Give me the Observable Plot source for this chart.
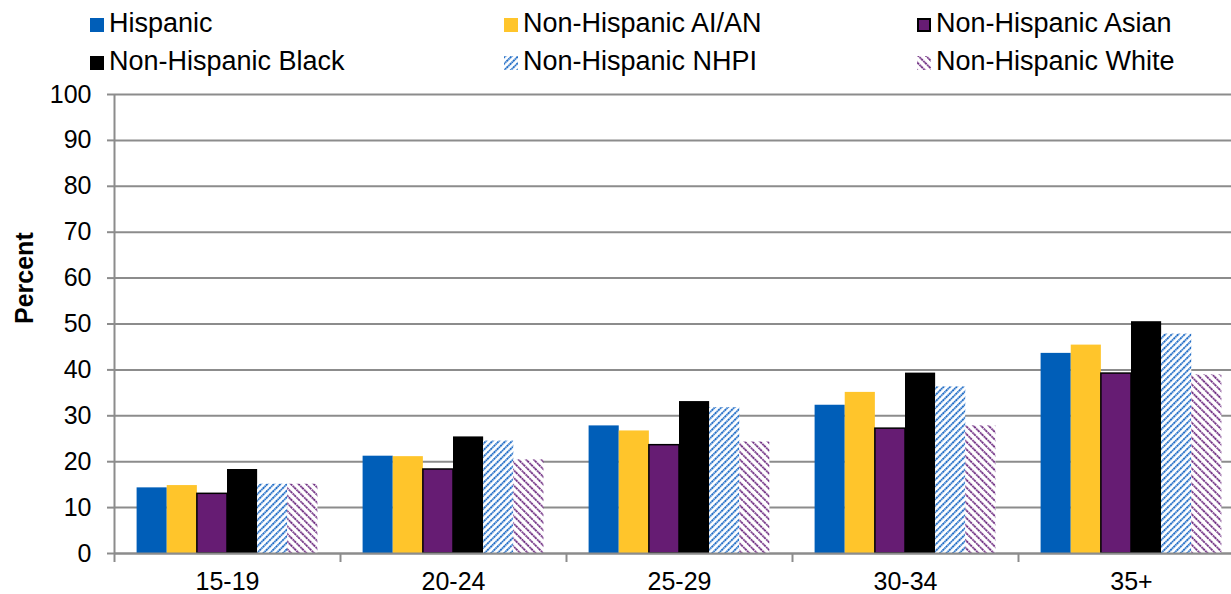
<!DOCTYPE html>
<html>
<head>
<meta charset="utf-8">
<script src="https://cdn.jsdelivr.net/npm/d3@7"></script>
<script src="https://cdn.jsdelivr.net/npm/@observablehq/plot@0.6"></script>
<style>
  html, body { margin: 0; padding: 0; background: #fff; overflow: hidden; }
  body { width: 1231px; height: 594px; font-family: "Liberation Sans", Arial, sans-serif; }
  #legend { position: relative; width: 1231px; height: 80px; }
  #chart { width: 1244px; }
  #chart svg { max-width: none !important; display: block; }
  .sw { position: absolute; width: 14px; height: 14px; }
  .lt { position: absolute; font-size: 27px; line-height: 30px; color: #000; white-space: nowrap; }
</style>
</head>
<body>
<svg width="0" height="0" style="position:absolute">
  <defs>
    <pattern id="hatch-nhpi" patternUnits="userSpaceOnUse" width="4.6" height="4.6" patternTransform="rotate(45)">
      <rect width="4.6" height="4.6" fill="#ffffff"></rect>
      <line x1="1" y1="0" x2="1" y2="4.6" stroke="#1f6cc6" stroke-width="1.9" stroke-dasharray="1.8 0.5"></line>
    </pattern>
    <pattern id="hatch-white" patternUnits="userSpaceOnUse" width="5.4" height="5.4" patternTransform="rotate(-45)">
      <rect width="5.4" height="5.4" fill="#ffffff"></rect>
      <line x1="1" y1="0" x2="1" y2="5.4" stroke="#6d2a80" stroke-width="1.8" stroke-dasharray="1.8 0.6"></line>
    </pattern>
  </defs>
</svg>
<div id="legend"></div>
<div id="chart"></div>
<script>
const categories = ["15-19", "20-24", "25-29", "30-34", "35+"];
const series = ["Hispanic", "Non-Hispanic AI/AN", "Non-Hispanic Asian", "Non-Hispanic Black", "Non-Hispanic NHPI", "Non-Hispanic White"];
const hispanic = [14.3, 21.2, 27.8, 32.3, 43.6];
const aian     = [14.8, 21.1, 26.7, 35.1, 45.4];
const asian    = [13.0, 18.3, 23.6, 27.2, 39.2];
const black    = [18.3, 25.4, 33.1, 39.3, 50.5];
const nhpi     = [15.1, 24.5, 31.8, 36.3, 47.8];
const white    = [15.1, 20.4, 24.3, 27.8, 38.9];
const yTicks = [0, 10, 20, 30, 40, 50, 60, 70, 80, 90, 100];

const colors = ["#005eb8", "#ffc52b", "#661c73", "#000000", "url(#hatch-nhpi)", "url(#hatch-white)"];
const values = [hispanic, aian, asian, black, nhpi, white];

const rows = [];
categories.forEach((c, ci) => {
  series.forEach((s, si) => {
    rows.push({cat: c, ci, series: s, si, value: values[si][ci]});
  });
});

// Legend (HTML above the SVG)
const legend = document.getElementById("legend");
const legendCols = [90, 504, 917];
const legendRows = [18, 56];
series.forEach((s, i) => {
  const col = i % 3, row = Math.floor(i / 3);
  const sw = document.createElementNS("http://www.w3.org/2000/svg", "svg");
  sw.setAttribute("class", "sw");
  sw.setAttribute("width", 14); sw.setAttribute("height", 14);
  sw.style.left = legendCols[col] + "px";
  sw.style.top = legendRows[row] + "px";
  const r = document.createElementNS("http://www.w3.org/2000/svg", "rect");
  const bordered = s === "Non-Hispanic Asian";
  r.setAttribute("x", bordered ? 1 : 0); r.setAttribute("y", bordered ? 1 : 0);
  r.setAttribute("width", bordered ? 12 : 14); r.setAttribute("height", bordered ? 12 : 14);
  r.setAttribute("fill", colors[i]);
  if (bordered) { r.setAttribute("stroke", "#000"); r.setAttribute("stroke-width", 2); }
  sw.appendChild(r);
  legend.appendChild(sw);
  const t = document.createElement("div");
  t.className = "lt";
  t.textContent = s;
  t.style.left = (legendCols[col] + 19) + "px";
  t.style.top = (legendRows[row] - 10) + "px";
  legend.appendChild(t);
});

const grid = "#8c8c8c";
const nC = categories.length, nS = series.length, pad = 0.75;
const step = 1 / (nS + 2 * pad);

const chart = Plot.plot({
  width: 1244,
  height: 514,
  marginTop: 14,
  marginBottom: 41,
  marginLeft: 114,
  marginRight: 0,
  style: {fontFamily: "'Liberation Sans', Arial, sans-serif", fontSize: "25px", color: "#000", background: "#fff", overflow: "visible", maxWidth: "none"},
  x: {type: "linear", domain: [0, nC], axis: null},
  y: {domain: [0, 100], axis: null},
  color: {type: "ordinal", domain: series, range: colors},
  marks: [
    Plot.gridY(yTicks, {stroke: grid, strokeOpacity: 1, strokeWidth: 2}),
    Plot.rectY(rows, {
      x1: d => d.ci + (d.si + pad) * step,
      x2: d => d.ci + (d.si + pad + 1) * step,
      y1: 0, y2: "value", fill: "series"
    }),
    Plot.rectY(rows.filter(d => d.series === "Non-Hispanic Asian"), {
      x1: d => d.ci + (d.si + pad) * step,
      x2: d => d.ci + (d.si + pad + 1) * step,
      y1: 0, y2: "value", fill: "none", stroke: "#000", strokeWidth: 1.5
    }),
    Plot.ruleY([0], {stroke: grid, strokeWidth: 2}),
    Plot.ruleX([0], {y1: 0, y2: 100, stroke: grid, strokeWidth: 2}),
    Plot.axisY({ticks: yTicks, tickSize: 7, text: null, stroke: grid, strokeWidth: 2, label: null}),
    Plot.axisY({ticks: yTicks, tickSize: 0, tickPadding: 23, fontSize: 25, label: null}),
    Plot.axisX({ticks: d3.range(0, nC + 1), tickSize: 9, text: null, stroke: grid, strokeWidth: 2, label: null}),
    Plot.axisX({ticks: categories.map((c, i) => i + 0.5), tickFormat: d => categories[Math.floor(d)], tickSize: 0, tickPadding: 19, fontSize: 25, label: null}),
    Plot.text(["Percent"], {frameAnchor: "left", dx: -90, rotate: -90, fontWeight: "bold", fontSize: 25, lineAnchor: "middle"})
  ]
});
document.getElementById("chart").appendChild(chart);
</script>
</body>
</html>
